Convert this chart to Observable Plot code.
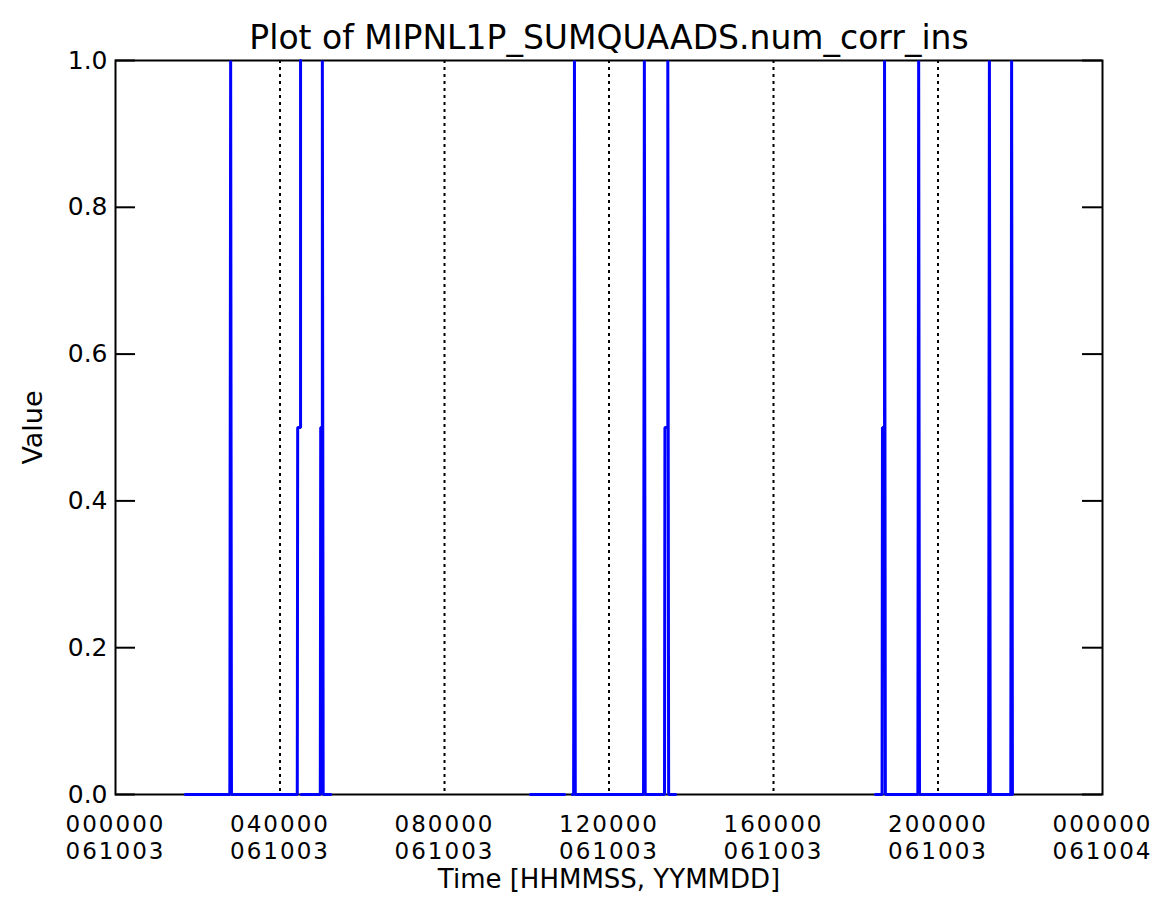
<!DOCTYPE html>
<html>
<head>
<meta charset="utf-8">
<script src="https://cdn.jsdelivr.net/npm/d3@7"></script>
<script src="https://cdn.jsdelivr.net/npm/@observablehq/plot@0.6"></script>
<style>
  html, body { margin: 0; padding: 0; background: #fff; }
  #chart svg { display: block; }
  g[aria-label="x-axis tick label"] text { letter-spacing: 2px; }
</style>
</head>
<body>
<div id="chart"></div>
<script>
// Time of day in hours (2006-10-03), and the plotted value (NaN = gap in the series)
const timeHours = [
  1.70, 2.78, 2.80, 2.82, 4.42, 4.43, 4.50, 4.50, 4.51,
  4.52, 4.98, 4.99, 5.03, 5.03, 5.05, 5.23, 5.24,
  10.09, 10.92, 10.93,
  11.11, 11.14, 11.16, 11.18, 12.84, 12.86, 12.88, 13.35, 13.36, 13.43, 13.43, 13.45, 13.62, 13.63,
  18.48, 18.64, 18.65, 18.70, 18.70, 18.72, 19.51, 19.53, 19.55, 21.23, 21.25, 21.27, 21.77, 21.79, 21.81
];
const values = [
  0, 0, 1, 0, 0, 0.5, 0.5, 1, NaN,
  0, 0, 0.5, 0.5, 1, 0, 0, NaN,
  0, 0, NaN,
  0, 0, 1, 0, 0, 1, 0, 0, 0.5, 0.5, 1, 0, 0, NaN,
  0, 0, 0.5, 0.5, 1, 0, 0, 1, 0, 0, 1, 0, 0, 1, 0
];

const xTickHours = [0, 4, 8, 12, 16, 20, 24];
const xTickTimes = ["000000", "040000", "080000", "120000", "160000", "200000", "000000"];
const xTickDates = ["061003", "061003", "061003", "061003", "061003", "061003", "061004"];
const gridHours = [4, 8, 12, 16, 20];
const yTicks = [0, 0.2, 0.4, 0.6, 0.8, 1.0];

const titleText = "Plot of MIPNL1P_SUMQUAADS.num_corr_ins";
const xLabel = "Time [HHMMSS, YYMMDD]";
const yLabel = "Value";

const series = timeHours.map((t, i) => ({t, v: values[i]}));

const W = 1160, H = 907;
const mL = 115, mR = 58, mT = 60, mB = 113;
const plotW = W - mL - mR;
const tickLen = 20;
const font = "DejaVu Sans, sans-serif";

const chart = Plot.plot({
  width: W,
  height: H,
  marginLeft: mL,
  marginRight: mR,
  marginTop: mT,
  marginBottom: mB,
  style: {fontFamily: font, background: "white", color: "black"},
  x: {domain: [0, 24], label: null},
  y: {domain: [0, 1], label: null},
  marks: [
    Plot.ruleX(gridHours, {x: d => d, stroke: "black", strokeWidth: 2, strokeDasharray: "3,4"}),
    Plot.ruleY(yTicks, {y: d => d, stroke: "black", strokeWidth: 2, insetRight: plotW - tickLen}),
    Plot.ruleY(yTicks, {y: d => d, stroke: "black", strokeWidth: 2, insetLeft: plotW - tickLen}),
    Plot.frame({stroke: "black", strokeWidth: 2}),
    Plot.line(series, {x: "t", y: "v", stroke: "#0000ff", strokeWidth: 3, strokeLinejoin: "miter"}),
    Plot.axisY({
      ticks: yTicks, tickSize: 0, tickPadding: 8, fontSize: 25,
      tickFormat: d3.format(".1f"), label: null
    }),
    Plot.axisX({
      ticks: xTickHours, tickSize: 0, tickPadding: 19, fontSize: 23, lineHeight: 1.16,
      tickFormat: d => xTickTimes[xTickHours.indexOf(d)] + "\n" + xTickDates[xTickHours.indexOf(d)],
      label: null
    }),
    Plot.text([titleText], {text: d => d, frameAnchor: "top", dy: -22, fontSize: 33, lineAnchor: "middle", textAnchor: "middle", fill: "black"}),
    Plot.text([xLabel], {text: d => d, frameAnchor: "bottom", dy: 85, fontSize: 26, lineAnchor: "middle", textAnchor: "middle", fill: "black"}),
    Plot.text([yLabel], {text: d => d, frameAnchor: "left", dx: -82, rotate: -90, fontSize: 27, lineAnchor: "middle", textAnchor: "middle", fill: "black"})
  ]
});
document.getElementById("chart").appendChild(chart);
</script>
</body>
</html>
